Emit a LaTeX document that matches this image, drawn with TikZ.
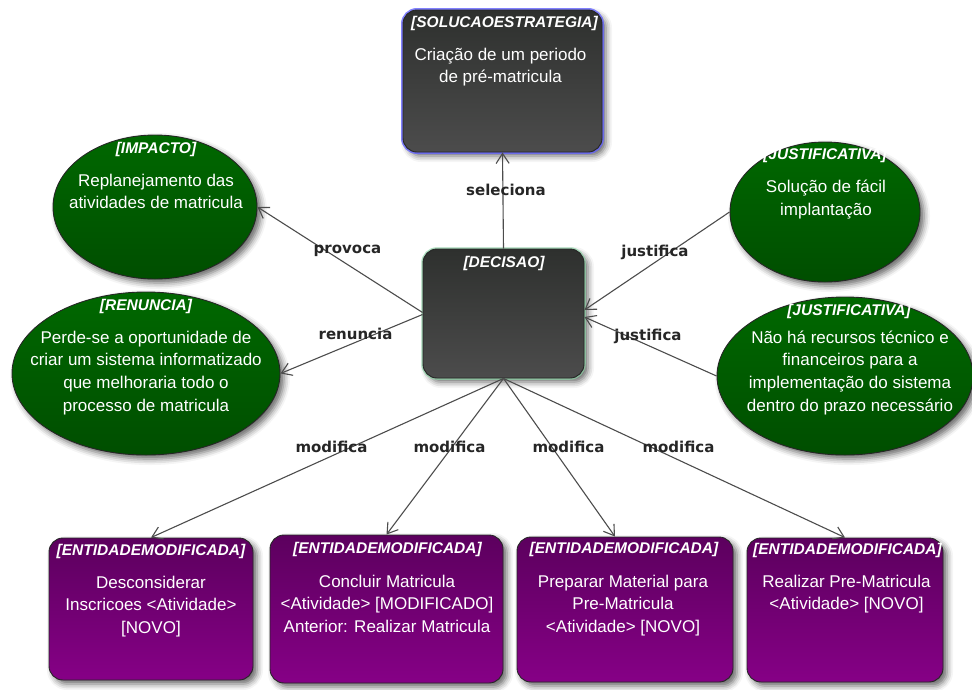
\documentclass[tikz,border=0pt]{standalone}
\usepackage{fontspec}
\setmainfont{Liberation Sans}
\newfontfamily\edgefont{DejaVu Sans}
\usetikzlibrary{shapes.geometric,arrows.meta,shadows.blur}

\definecolor{dkTop}{RGB}{46,48,46}
\definecolor{dkBot}{RGB}{76,76,76}
\definecolor{gnTop}{RGB}{0,104,0}
\definecolor{gnBot}{RGB}{0,78,0}
\definecolor{ppTop}{RGB}{92,0,94}
\definecolor{ppBot}{RGB}{134,0,134}
\definecolor{glowBlue}{RGB}{100,100,255}
\definecolor{glowGreen}{RGB}{140,210,165}

\tikzset{
  shapebase/.style={draw=black!85, line width=0.9pt, inner sep=0pt,
    blur shadow={shadow xshift=4pt, shadow yshift=-4pt,
                 shadow blur radius=6pt, shadow opacity=60}},
  darkbox/.style={shapebase, rectangle, rounded corners=14pt,
    top color=dkTop, bottom color=dkBot},
  greenoval/.style={shapebase, ellipse, top color=gnTop, bottom color=gnBot},
  purplebox/.style={shapebase, rectangle, rounded corners=14pt,
    top color=ppTop, bottom color=ppBot},
  ttl/.style={font=\fontsize{15.5}{18}\selectfont\bfseries\itshape,
    text=white, anchor=base, inner sep=0pt},
  body/.style={font=\fontsize{17}{22.6}\selectfont, text=white,
    align=center, anchor=north, inner sep=0pt},
  rel/.style={draw=black!70, line width=1.1pt,
    -{Straight Barb[length=10pt,width=13pt]}},
  lbl/.style={font=\edgefont\bfseries\fontsize{15}{18}\selectfont,
    text=black!85, inner sep=1pt},
}

\begin{document}
\begin{tikzpicture}[x=1pt,y=-1pt]
\useasboundingbox (0,0) rectangle (972,689);

% central decision and chosen strategy
\node[darkbox, minimum width=199pt, minimum height=142pt,
      preaction={draw=glowBlue, line width=4pt, opacity=0.8, rounded corners=14pt}]
      (sol) at (502.5,81) {};
\node[darkbox, minimum width=161pt, minimum height=129pt,
      preaction={draw=glowGreen, line width=3.5pt, opacity=0.7, rounded corners=14pt}]
      (dec) at (503.5,313.5) {};

% impact, renouncement and justifications
\node[greenoval, minimum width=204pt, minimum height=144pt] (imp) at (155,207) {};
\node[greenoval, minimum width=268pt, minimum height=163pt] (ren) at (146,373.5) {};
\node[greenoval, minimum width=190pt, minimum height=140pt] (jus1) at (825,212) {};
\node[greenoval, minimum width=256pt, minimum height=158pt] (jus2) at (845,376) {};

% modified entities
\node[purplebox, minimum width=204pt, minimum height=142pt] (ent1) at (151,609) {};
\node[purplebox, minimum width=233pt, minimum height=148pt] (ent2) at (386.5,609) {};
\node[purplebox, minimum width=216pt, minimum height=145pt] (ent3) at (625,609.5) {};
\node[purplebox, minimum width=196pt, minimum height=144pt] (ent4) at (845,610) {};

% titles
\node[ttl] (solT)  at (504.5,27)  {[SOLUCAOESTRATEGIA]};
\node[ttl] (decT)  at (504,267)   {[DECISAO]};
\node[ttl] (impT)  at (156,153)   {[IMPACTO]};
\node[ttl] (renT)  at (146,310.5) {[RENUNCIA]};
\node[ttl] (jus1T) at (825,159)   {[JUSTIFICATIVA]};
\node[ttl] (jus2T) at (849,315)   {[JUSTIFICATIVA]};
\node[ttl] (ent1T) at (151,555)   {[ENTIDADEMODIFICADA]};
\node[ttl] (ent2T) at (387.5,553) {[ENTIDADEMODIFICADA]};
\node[ttl] (ent3T) at (624,553)   {[ENTIDADEMODIFICADA]};
\node[ttl] (ent4T) at (847.5,554) {[ENTIDADEMODIFICADA]};

% descriptions
\node[body] (solB)  at (500.5,47.7)  {Criação de um periodo\\de pré-matricula};
\node[body] (impB)  at (156,173.7)   {Replanejamento das\\atividades de matricula};
\node[body] (renB)  at (146,330.7)   {Perde-se a oportunidade de\\criar um sistema informatizado\\que melhoraria todo o\\processo de matricula};
\node[body] (jus1B) at (826,179.7)   {Solução de fácil\\implantação};
\node[body] (jus2B) at (850,330.5)   {Não há recursos técnico e\\financeiros para a\\implementação do sistema\\dentro do prazo necessário};
\node[body] (ent1B) at (151,575.7)   {Desconsiderar\\Inscricoes <Atividade>\\{[NOVO]}};
\node[body] (ent2B) at (387,574.7)   {Concluir Matricula\\<Atividade> [MODIFICADO]\\Anterior: Realizar Matricula};
\node[body] (ent3B) at (623,574.7)   {Preparar Material para\\Pre-Matricula\\<Atividade> [NOVO]};
\node[body] (ent4B) at (846.5,574.7) {Realizar Pre-Matricula\\<Atividade> [NOVO]};

% relations
\draw[rel] (dec.north) -- (sol.south);
\draw[rel] ([yshift=1pt]dec.west) -- (imp.east);
\draw[rel] ([yshift=-1pt]dec.west) -- (ren.east);
\draw[rel] (jus1.west) -- ([yshift=3.5pt]dec.east);
\draw[rel] (jus2.west) -- ([yshift=-3.5pt]dec.east);
\draw[rel] (dec.south) -- (ent1.north);
\draw[rel] (dec.south) -- (ent2.north);
\draw[rel] (dec.south) -- ([xshift=-10pt]ent3.north);
\draw[rel] (dec.south) -- (ent4.north);

% relation labels
\node[lbl] (lSel)  at (506,190)   {seleciona};
\node[lbl] (lProv) at (347.5,251) {provoca};
\node[lbl] (lRen)  at (355.5,334) {renuncia};
\node[lbl] (lJus1) at (655,252)   {justifica};
\node[lbl] (lJus2) at (648,336)   {justifica};
\node[lbl] (lMod1) at (331.5,447) {modifica};
\node[lbl] (lMod2) at (449.5,447) {modifica};
\node[lbl] (lMod3) at (568.5,447) {modifica};
\node[lbl] (lMod4) at (678.5,447) {modifica};
\end{tikzpicture}
\end{document}
